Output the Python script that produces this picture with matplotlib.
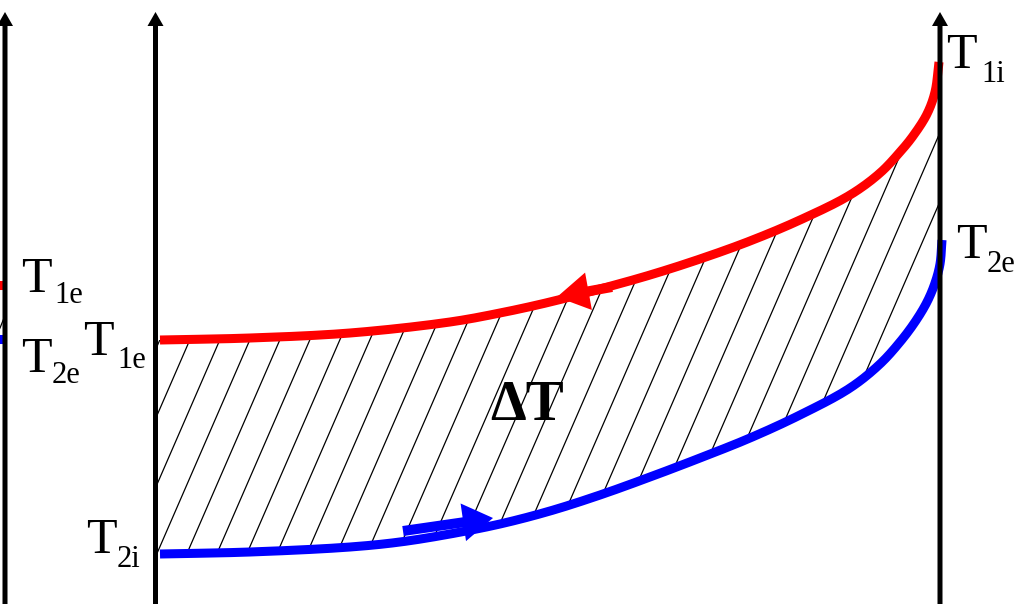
import matplotlib
matplotlib.use("Agg")
import matplotlib.pyplot as plt
import numpy as np
from matplotlib.patches import Polygon

# hot fluid (1) and cold fluid (2) temperature profiles along the exchanger
hot_pos = [160, 250, 350, 450, 500, 550, 600, 650, 700, 750, 800, 850, 880, 900, 913, 927, 935, 939]
hot_temp = [264, 266, 271, 282, 291, 302, 315, 329, 345, 363, 384, 409, 431, 452, 468, 490, 512, 542]
cold_pos = [160, 250, 350, 400, 450, 500, 550, 600, 650, 700, 750, 800, 850, 880, 900, 915, 927, 935, 940, 942]
cold_temp = [50, 52, 57, 62, 70, 80, 93, 109, 127, 146, 166, 189, 216, 240, 262, 282, 302, 321, 340, 364]

SERIF = "Liberation Serif"
H = 604


def smooth(xs, ys, n=20):
    # centripetal Catmull-Rom path through the read points (drawing only)
    p = np.column_stack([xs, ys]).astype(float)
    p = np.vstack([2 * p[0] - p[1], p, 2 * p[-1] - p[-2]])
    out = []
    for i in range(1, len(p) - 2):
        p0, p1, p2, p3 = p[i - 1], p[i], p[i + 1], p[i + 2]
        t0 = 0.0
        t1 = t0 + np.linalg.norm(p1 - p0) ** 0.5
        t2 = t1 + np.linalg.norm(p2 - p1) ** 0.5
        t3 = t2 + np.linalg.norm(p3 - p2) ** 0.5
        t = np.linspace(t1, t2, n)[:, None]
        a1 = (t1 - t) / (t1 - t0) * p0 + (t - t0) / (t1 - t0) * p1
        a2 = (t2 - t) / (t2 - t1) * p1 + (t - t1) / (t2 - t1) * p2
        a3 = (t3 - t) / (t3 - t2) * p2 + (t - t2) / (t3 - t2) * p3
        b1 = (t2 - t) / (t2 - t0) * a1 + (t - t0) / (t2 - t0) * a2
        b2 = (t3 - t) / (t3 - t1) * a2 + (t - t1) / (t3 - t1) * a3
        c = (t2 - t) / (t2 - t1) * b1 + (t - t1) / (t2 - t1) * b2
        out.append(c if i == 1 else c[1:])
    c = np.vstack(out)
    return c[:, 0], c[:, 1]


def label(ax, x, y, main, sub, x_sub, y_sub):
    ax.text(x, H - y, main, fontsize=36, family=SERIF, va="baseline", ha="left")
    ax.text(x_sub, H - y_sub, sub, fontsize=22, family=SERIF, va="baseline", ha="left")


def axis_arrow(ax, x):
    ax.arrow(x, -5, 0, H - 12 + 5, width=5, head_width=16, head_length=14,
             length_includes_head=True, fc="black", ec="none", zorder=5)


def main():
    fig = plt.figure(figsize=(10.35, 6.04), dpi=100)
    ax = fig.add_axes([0, 0, 1, 1])
    ax.set_xlim(0, 1035)
    ax.set_ylim(0, H)
    ax.axis("off")

    hx, hy = smooth(hot_pos, hot_temp)
    cx, cy = smooth(cold_pos, cold_temp)

    # hatched region between the two curves
    poly = [(155, hot_temp[0])] + list(zip(hx, hy)) \
        + list(zip(cx, cy))[::-1] + [(155, cold_temp[0])]
    clip = Polygon(poly, closed=True, fc="none", ec="none")
    ax.add_patch(clip)
    slope = 2.3
    for k in range(-20, 40):
        x0 = 15 + 30 * k
        ln, = ax.plot([x0, x0 + H / slope], [0, H], color="black", lw=0.9, zorder=2)
        ln.set_clip_path(clip)

    ax.plot(hx, hy, color="#ff0000", lw=6.5, solid_capstyle="butt", zorder=3)
    ax.plot(cx, cy, color="#0000ff", lw=6.5, solid_capstyle="butt", zorder=3)

    # flow direction arrows
    ax.arrow(612, H - 287, 557 - 612, 287 - 297, width=10, head_width=38, head_length=32,
             length_includes_head=True, fc="#ff0000", ec="none", zorder=4)
    ax.arrow(403, H - 531, 493 - 403, 531 - 518, width=10, head_width=38, head_length=30,
             length_includes_head=True, fc="#0000ff", ec="none", zorder=4)

    # axes
    axis_arrow(ax, 5)
    axis_arrow(ax, 155.5)
    axis_arrow(ax, 940)

    # fragment of the neighbouring sketch on the left edge
    ax.plot([-2, 5], [H - 285, H - 285], color="#ff0000", lw=6.5, solid_capstyle="butt")
    ax.plot([-2, 5], [H - 339, H - 339], color="#0000ff", lw=6.5, solid_capstyle="butt")
    ax.plot([0, 4], [H - 328, H - 318], color="black", lw=0.9)

    label(ax, 21, 292, "T", "1e", 54, 303)
    label(ax, 21, 372, "T", "2e", 52, 383)
    label(ax, 83, 355, "T", "1e", 117, 368)
    label(ax, 86, 553, "T", "2i", 117, 567)
    label(ax, 946, 68, "T", "1i", 981, 82)
    label(ax, 956, 258, "T", "2e", 987, 272)

    ax.text(490, H - 420, "\u0394T", fontsize=41, family=SERIF, fontweight="bold",
            va="baseline", ha="left")

    fig.savefig("out.png", dpi=100)


if __name__ == "__main__":
    main()
